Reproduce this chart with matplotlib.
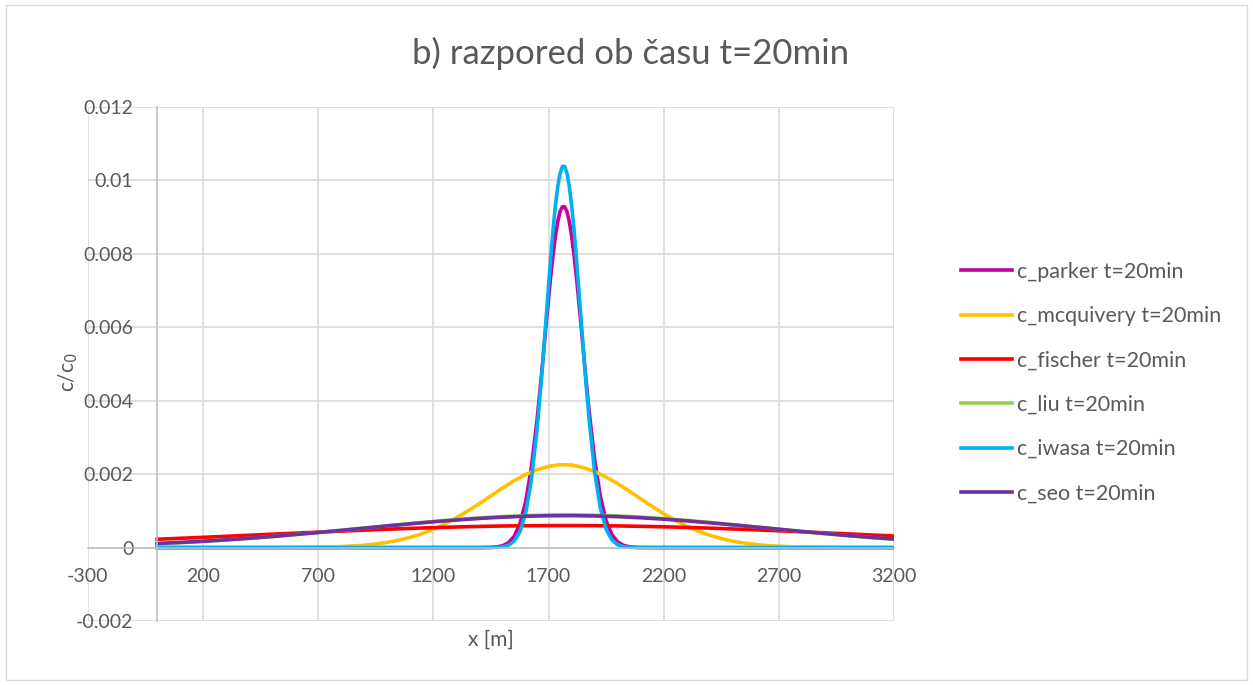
import numpy as np
import matplotlib.pyplot as plt
from matplotlib.patches import Rectangle

# x positions (m)
x_broad = list(range(0, 3201, 100))
x_peak = ([0, 1400] + list(range(1450, 1651, 25)) + list(range(1670, 1861, 10))
          + list(range(1875, 2101, 25)) + [2200, 3200])
x_mcq = [0, 500, 600, 700, 800] + list(range(850, 2701, 50)) + [2800, 2900, 3000, 3200]

# concentrations c/c0
c_parker = [0, 0,
            0.000006, 0.000018, 0.00005, 0.000128, 0.0003, 0.000635, 0.00123, 0.00217, 0.00348,
            0.00475, 0.00544, 0.00612, 0.00679, 0.00743, 0.008, 0.00849, 0.00888, 0.00915,
            0.00928, 0.00928, 0.00915, 0.00888, 0.00849, 0.008, 0.00743, 0.00679, 0.00612,
            0.00544, 0.00475,
            0.00378, 0.0024, 0.00139, 0.00073, 0.00035, 0.000153, 0.000061, 0.000022,
            0.000007, 0.000002,
            0, 0]
c_iwasa = [0, 0,
           0.000002, 0.000006, 0.00002, 0.000062, 0.000171, 0.00042, 0.000925, 0.00182, 0.00321,
           0.00466, 0.00547, 0.00631, 0.00714, 0.00795, 0.00869, 0.00933, 0.00984, 0.01019,
           0.01038, 0.01038, 0.01019, 0.00984, 0.00933, 0.00869, 0.00795, 0.00714, 0.00631,
           0.00547, 0.00466,
           0.00355, 0.00206, 0.00107, 0.000496, 0.000206, 0.000077, 0.000026, 0.000008,
           0.000002, 0,
           0, 0]
c_mcquivery = [0, 0, 0.000004, 0.0000105, 0.0000276,
               0.000043, 0.0000655, 0.0000975, 0.000142, 0.000201, 0.000279, 0.000377,
               0.000499, 0.000644, 0.000812, 0.001, 0.0012, 0.00141, 0.00162, 0.00182,
               0.00199, 0.00212, 0.00221, 0.00226, 0.00225, 0.00218, 0.00207, 0.00192,
               0.00174, 0.00154, 0.00133, 0.00112, 0.00092, 0.000742, 0.000583, 0.000447,
               0.000335, 0.000245, 0.000175, 0.000122, 0.0000834, 0.0000555, 0.000036,
               0.0000142, 0.000005, 0, 0]
c_fischer = [0.000227, 0.000252, 0.000279, 0.000307, 0.000335, 0.000364, 0.000393, 0.000421,
             0.000449, 0.000475, 0.0005, 0.000523, 0.000543, 0.000561, 0.000576, 0.000587,
             0.000595, 0.000599, 0.0006, 0.000597, 0.00059, 0.000579, 0.000566, 0.000549,
             0.000529, 0.000507, 0.000483, 0.000457, 0.000429, 0.000401, 0.000373,
             0.000344, 0.000315]
c_liu = [0.000105, 0.000133, 0.000167, 0.000206, 0.00025, 0.000299, 0.000354, 0.000411,
         0.000471, 0.000533, 0.000595, 0.000655, 0.000712, 0.000764, 0.000809, 0.000845,
         0.000871, 0.000886, 0.00089, 0.000881, 0.000861, 0.00083, 0.000789, 0.00074,
         0.000685, 0.000625, 0.000564, 0.000501, 0.000439, 0.000379, 0.000323, 0.000272,
         0.000225]
c_seo = [0.000112, 0.00014, 0.000173, 0.000211, 0.000254, 0.000302, 0.000355, 0.00041,
         0.000469, 0.000529, 0.000589, 0.000647, 0.000702, 0.000751, 0.000794, 0.000828,
         0.000853, 0.000867, 0.00087, 0.000861, 0.000842, 0.000812, 0.000774, 0.000727,
         0.000675, 0.000618, 0.000559, 0.000499, 0.000439, 0.000382, 0.000328, 0.000278,
         0.000232]

x_ticks = [-300, 200, 700, 1200, 1700, 2200, 2700, 3200]
y_ticks = [-0.002, 0, 0.002, 0.004, 0.006, 0.008, 0.01, 0.012]
y_ticklabels = ['-0.002', '0', '0.002', '0.004', '0.006', '0.008', '0.01', '0.012']

plt.rcParams['font.family'] = ['Lato', 'DejaVu Sans']
plt.rcParams['axes.unicode_minus'] = False
txt = '#595959'
lw = 2.6

fig = plt.figure(figsize=(12.53, 6.85), dpi=100)
ax = fig.add_axes([88/1253, 1-621/685, (894-88)/1253, (621-107)/685])

ax.plot(x_peak, c_parker, color='#C8009B', lw=lw, label='c_parker t=20min')
ax.plot(x_mcq, c_mcquivery, color='#FFC000', lw=lw, label='c_mcquivery t=20min')
ax.plot(x_broad, c_fischer, color='#FF0000', lw=lw, label='c_fischer t=20min')
ax.plot(x_broad, c_liu, color='#92D050', lw=lw, label='c_liu t=20min')
ax.plot(x_peak, c_iwasa, color='#00B0F0', lw=lw, label='c_iwasa t=20min')
ax.plot(x_broad, c_seo, color='#7030A0', lw=lw, label='c_seo t=20min')

ax.set_xlim(-300, 3200)
ax.set_ylim(-0.002, 0.012)
ax.set_xticks(x_ticks)
ax.set_yticks(y_ticks)
ax.set_yticklabels(y_ticklabels)
ax.grid(True, color='#D9D9D9', lw=1.2)
ax.set_axisbelow(True)
for s in ['top', 'right']:
    ax.spines[s].set_visible(False)
ax.spines['left'].set_position(('data', 0))
ax.spines['bottom'].set_position(('data', 0))
for s in ['left', 'bottom']:
    ax.spines[s].set_color('#BFBFBF')
    ax.spines[s].set_linewidth(1.2)
ax.tick_params(axis='y', length=0, pad=17, labelsize=14, labelcolor=txt)
ax.tick_params(axis='x', length=0, pad=15, labelsize=14, labelcolor=txt)

fig.text(491/1253, 1-640/685, 'x [m]', ha='center', va='center', fontsize=15, color=txt)
fig.text(68/1253, 1-372/685, 'c/c$_0$', ha='center', va='center', rotation=90,
         fontsize=15, color=txt)
fig.text(631/1253, 1-53/685, 'b) razpored ob času t=20min', ha='center', va='center',
         fontsize=25, color=txt)

fig.legend(loc='upper left', bbox_to_anchor=(950/1253, 1-251/685), frameon=False,
           fontsize=15.5, labelcolor=txt, handlelength=2.4, handletextpad=0.2,
           labelspacing=1.13, borderpad=0)

fig.patches.append(Rectangle((6/1253, 5/685), 1241/1253, 675/685, transform=fig.transFigure,
                             fill=False, edgecolor='#D9D9D9', lw=1))

fig.savefig('out.png', dpi=100)
